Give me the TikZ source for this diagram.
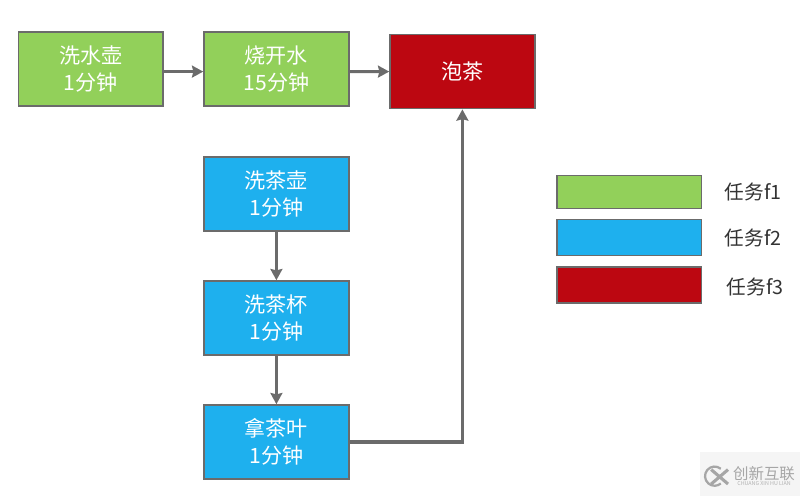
\documentclass[tikz,border=0pt]{standalone}
\usepackage{fontspec}
\setmainfont{Noto Sans CJK SC}
\definecolor{taskgreen}{HTML}{92D05A}
\definecolor{taskblue}{HTML}{1EB0EE}
\definecolor{taskred}{HTML}{BC0711}
\definecolor{linegray}{HTML}{6B6B6B}
\usetikzlibrary{arrows.meta}
\tikzset{
	taskbox/.style={draw=linegray,line width=1.1pt,minimum width=3.62cm,minimum height=1.85cm,align=center,text=white,font=\fontsize{15}{19.5}\selectfont,inner sep=0pt},
	legendbox/.style={draw=linegray,line width=1.1pt,minimum width=3.62cm,inner sep=0pt},
	legendtext/.style={text=black!80,font=\fontsize{14}{17}\selectfont,inner sep=0pt},
	flow/.style={draw=linegray,line width=2.2pt,-{Stealth[length=8pt,width=8.5pt,inset=1pt]}}
}
\begin{document}
\begin{tikzpicture}
	\useasboundingbox (0,0) rectangle (20,12.4);

	\node[taskbox,fill=taskgreen] (xishuihu) at (2.27,10.675) {洗水壶\\1分钟};
	\node[taskbox,fill=taskgreen] (shaokaishui) at (6.91,10.675) {烧开水\\15分钟};
	\node[taskbox,fill=taskred] (paocha) at (11.56,10.61) {泡茶};
	\node[taskbox,fill=taskblue] (xichahu) at (6.91,7.55) {洗茶壶\\1分钟};
	\node[taskbox,fill=taskblue] (xichabei) at (6.91,4.45) {洗茶杯\\1分钟};
	\node[taskbox,fill=taskblue] (nachaye) at (6.91,1.35) {拿茶叶\\1分钟};

	\draw[flow] ([yshift=-0.065cm]xishuihu.east) -- ([yshift=-0.065cm]shaokaishui.west);
	\draw[flow] ([yshift=-0.065cm]shaokaishui.east) -- (paocha.west);
	\draw[flow] (xichahu) -- (xichabei);
	\draw[flow] (xichabei) -- (nachaye);
	\draw[flow] (nachaye) -| (paocha);

	\node[legendbox,fill=taskgreen,minimum height=0.83cm] (legendf1) at (15.73,7.6) {};
	\node[legendbox,fill=taskblue,minimum height=0.9cm] (legendf2) at (15.73,6.46) {};
	\node[legendbox,fill=taskred,minimum height=0.9cm] (legendf3) at (15.73,5.28) {};
	\node[legendtext] (textf1) at (18.83,7.6) {任务f1};
	\node[legendtext] (textf2) at (18.83,6.46) {任务f2};
	\node[legendtext] (textf3) at (18.88,5.22) {任务f3};

	% watermark
	\fill[black!4] (17.5,0) rectangle (20,1.1);
	\draw[black!35,line width=1.6pt] (18.02,0.68) arc (50:310:0.24);
	\draw[black!35,line width=2.2pt] (17.78,0.66) -- (18.2,0.3) (17.78,0.3) -- (18.2,0.66);
	\node[text=black!35,font=\fontsize{11}{11}\selectfont,inner sep=0pt] (wmname) at (19.1,0.55) {创新互联};
	\node[text=black!30,font=\fontsize{3.8}{3.8}\selectfont,inner sep=0pt] (wmpinyin) at (19.1,0.3) {CHUANG XIN HU LIAN};
\end{tikzpicture}
\end{document}
